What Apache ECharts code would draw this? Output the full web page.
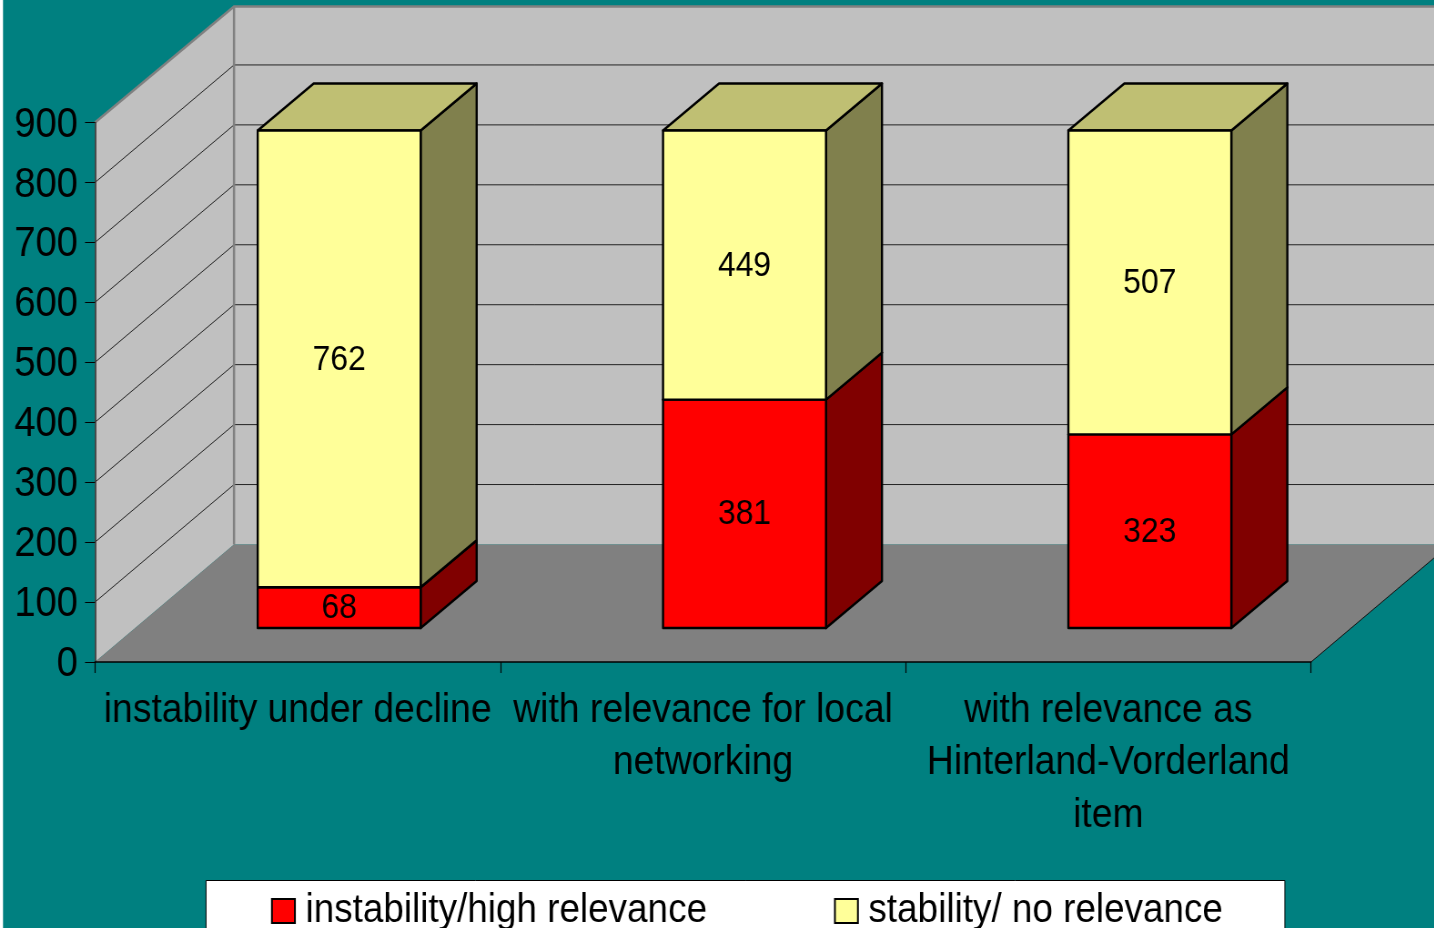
<!DOCTYPE html>
<html>
<head>
<meta charset="utf-8">
<style>
html,body{margin:0;padding:0;background:#008080;overflow:hidden;width:1434px;height:928px}
#c{height:928px;transform-origin:0 0}
</style>
<script src="https://cdn.jsdelivr.net/npm/echarts@6/dist/echarts.min.js"></script>
</head>
<body>
<div id="c"></div>
<script>
const categories = ["instability under decline", "with relevance for local\nnetworking", "with relevance as\nHinterland-Vorderland\nitem"];
const instability = [68, 381, 323];
const stability = [762, 449, 507];
const gridTicks = [100, 200, 300, 400, 500, 600, 700, 800, 900];
const seriesNames = ["instability/high relevance", "stability/ no relevance"];

// The reference is a horizontally squeezed picture: the chart is drawn wider and squeezed the same way.
const SX = 0.91;
const px = v => v / SX;
const el = document.getElementById('c');
el.style.width = px(1434) + 'px';
el.style.transform = 'scaleX(' + SX + ')';

const FONT = '"Liberation Sans", Arial, sans-serif';
const WALL = [px(139), -117.5];      // projection of the chart's full depth
const WALL_TOP_DY = -116;            // the top edge of the walls sits slightly lower
const BAR_FRONT = [px(41.5), -34];   // where the bars' front face sits in the depth
const BAR_DEPTH = [px(56), -47];     // depth of each bar
const BLACK = '#000';

function wallsItem(params, api) {
  const c = params.coordSys;
  const yAt = v => api.coord([0, v])[1];
  const x0 = c.x, x1 = c.x + c.width, y0 = yAt(0), yTop = yAt(900);
  const dx = WALL[0], dy = WALL[1];
  const yBack = yTop + WALL_TOP_DY;
  const kids = [
    {type:'polygon', shape:{points:[[x0,y0],[x0,yTop],[x0+dx,yBack],[x0+dx,y0+dy]]}, style:{fill:'#C0C0C0'}},
    {type:'polygon', shape:{points:[[x0+dx,y0+dy],[x0+dx,yBack],[x1+dx,yBack],[x1+dx,y0+dy]]}, style:{fill:'#C0C0C0'}},
    {type:'polygon', shape:{points:[[x0,y0],[x0+dx,y0+dy],[x1+dx,y0+dy],[x1,y0]]}, style:{fill:'#808080'}}
  ];
  gridTicks.forEach(v => {
    const y = yAt(v);
    const top = v === 900;
    const st = top ? {stroke:'#808080', lineWidth:2.5} : {stroke:'#222', lineWidth:1};
    const by = top ? yBack : y + dy;
    kids.push({type:'polyline', shape:{points:[[x0,y],[x0+dx,by],[x1+dx,by]]}, style:Object.assign({fill:null}, st)});
  });
  kids.push({type:'line', shape:{x1:x0+dx,y1:y0+dy,x2:x0+dx,y2:yBack}, style:{stroke:'#808080', lineWidth:2.5}});
  kids.push({type:'line', shape:{x1:x1,y1:y0,x2:x1+dx,y2:y0+dy}, style:{stroke:'#111', lineWidth:1}});
  return {type:'group', children:kids};
}

function barItem(colors) {
  return function (params, api) {
    const i = params.dataIndex;
    const base = api.value(2), val = api.value(1);
    const cx = api.coord([i, 0])[0];
    const w = api.size([1, 0])[0] * 0.402;
    const lx = cx + BAR_FRONT[0] - w / 2, rx = lx + w;
    const yb = api.coord([i, base])[1] + BAR_FRONT[1];
    const yt = api.coord([i, base + val])[1] + BAR_FRONT[1];
    const dx = BAR_DEPTH[0], dy = BAR_DEPTH[1];
    const line = {stroke: BLACK, lineWidth: 2.4, lineJoin: 'round'};
    const kids = [
      {type:'polygon', shape:{points:[[rx,yb],[rx,yt],[rx+dx,yt+dy],[rx+dx,yb+dy]]}, style:Object.assign({fill:colors.side}, line)},
      {type:'polygon', shape:{points:[[lx,yt],[lx+dx,yt+dy],[rx+dx,yt+dy],[rx,yt]]}, style:Object.assign({fill:colors.top}, line)},
      {type:'rect', shape:{x:lx,y:yt,width:w,height:yb-yt}, style:Object.assign({fill:colors.front}, line)},
      {type:'text', x:(lx+rx)/2, y:(yt+yb)/2 + 1, style:{text:String(val), fill:BLACK, font:'35px '+FONT, align:'center', verticalAlign:'middle'}}
    ];
    return {type:'group', children:kids};
  };
}

const redData = instability.map((v,i) => [i, v, 0]);
const yellowData = stability.map((v,i) => [i, v, instability[i]]);

const chart = echarts.init(el, null, {renderer:'canvas'});
chart.setOption({
  animation: false,
  backgroundColor: '#008080',
  textStyle: {fontFamily: FONT},
  grid: {left:px(95), top:122.5, width:px(1216), height:539.5, containLabel:false, outerBoundsMode:'none'},
  xAxis: {
    type:'category', data:categories, z:5,
    axisLine:{show:true, onZero:true, lineStyle:{color:'#000', width:1.5}},
    axisTick:{show:true, length:11, alignWithLabel:false, lineStyle:{color:'#000', width:1.2}},
    axisLabel:{interval:0, color:'#000', fontSize:41, lineHeight:52.5, margin:22, fontFamily:FONT, hideOverlap:false}
  },
  yAxis: {
    type:'value', min:0, max:900, interval:100, z:5,
    splitLine:{show:false},
    axisLine:{show:true, lineStyle:{color:'#333', width:1.6}},
    axisTick:{show:true, length:px(10), lineStyle:{color:'#000', width:1}},
    axisLabel:{color:'#000', fontSize:42, margin:px(17), fontFamily:FONT,
      formatter:'{n|{value}}', rich:{n:{fontSize:42, fontFamily:FONT, color:'#000', padding:[5,0,0,0]}}}
  },
  legend: {
    show:true, left:px(206), top:880.5, orient:'horizontal',
    data:seriesNames,
    icon:'rect',
    backgroundColor:'#fff', borderColor:'#000', borderWidth:1,
    padding:[10,px(62),20,px(65)], itemGap:px(127), itemWidth:px(23), itemHeight:24, selectedMode:false,
    textStyle:{color:'#000', fontSize:40.5, fontFamily:FONT, padding:[0,0,0,px(6)]},
    itemStyle:{borderColor:'#000', borderWidth:2}
  },
  graphic: [{type:'rect', left:0, top:0, shape:{width:px(3), height:928}, style:{fill:'#fff'}, silent:true}],
  series: [
    {type:'custom', name:'walls', z:1, silent:true, renderItem:wallsItem, data:[[0,0]], encode:{x:0,y:1}, clip:false, legendHoverLink:false},
    {type:'custom', name:seriesNames[0], z:3, itemStyle:{color:'#FF0000'}, clip:false,
     renderItem:barItem({front:'#FF0000', side:'#800000', top:'#C00000'}), data:redData, encode:{x:0,y:1}},
    {type:'custom', name:seriesNames[1], z:4, itemStyle:{color:'#FFFF99'}, clip:false,
     renderItem:barItem({front:'#FFFF99', side:'#80804D', top:'#BFBF73'}), data:yellowData, encode:{x:0,y:1}}
  ]
});
</script>
</body>
</html>
